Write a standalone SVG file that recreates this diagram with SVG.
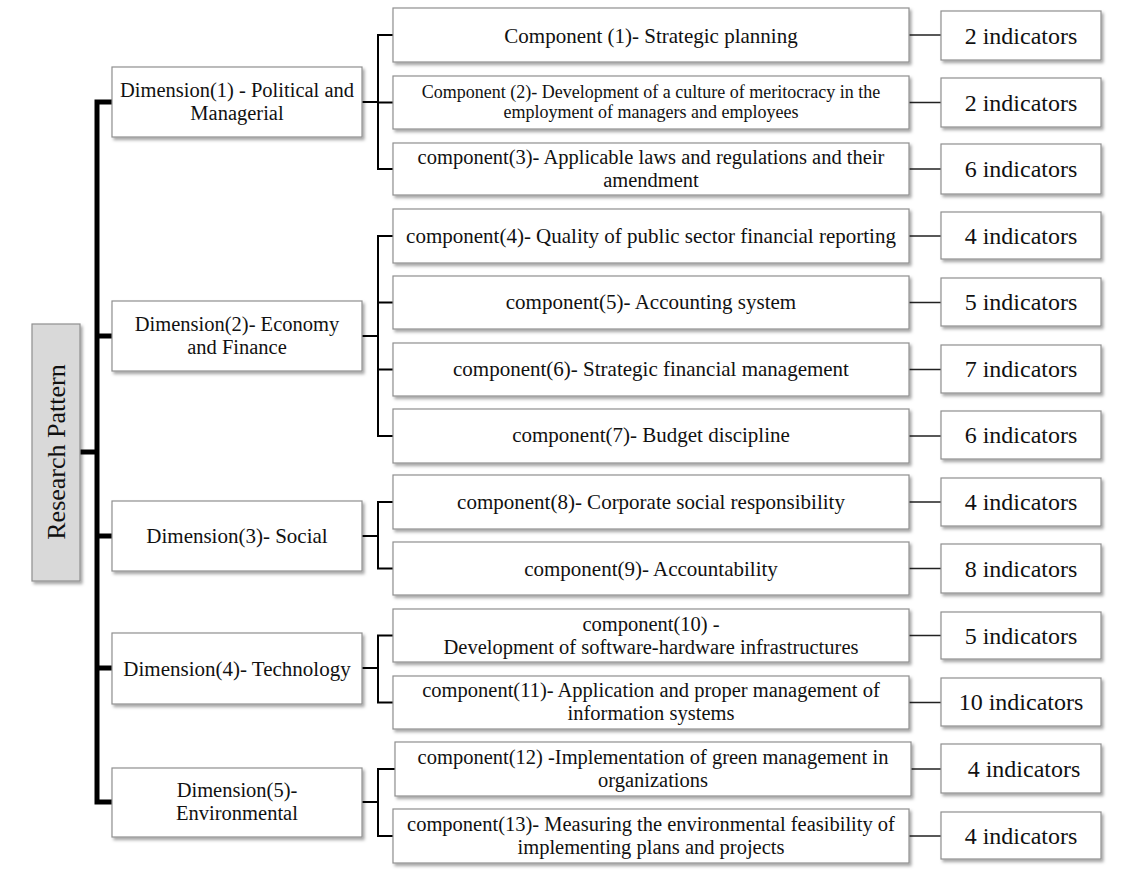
<svg xmlns="http://www.w3.org/2000/svg" width="1121" height="883" viewBox="0 0 1121 883">
<defs>
<filter id="sh" x="-10%" y="-20%" width="130%" height="150%">
<feDropShadow dx="2" dy="2.5" stdDeviation="1.5" flood-color="#000" flood-opacity="0.35"/>
</filter>
<style>
.box{fill:#fff;stroke:#8f8f8f;stroke-width:1.2;filter:url(#sh)}
.root{fill:#d9d9d9;stroke:#8f8f8f;stroke-width:1.2;filter:url(#sh)}
text{font-family:"Liberation Serif","Times New Roman",serif;fill:#111;text-anchor:middle}
.d{font-size:21px}
.d2{font-size:20.5px}
.c{font-size:21px}
.c1{font-size:20.5px}
.c2{font-size:18px}
.i{font-size:24px}
.r{font-size:26px}
.trunk{fill:none;stroke:#000;stroke-width:5}
.ln{fill:none;stroke:#000;stroke-width:2}
.li{fill:none;stroke:#222;stroke-width:1.5}
</style>
</defs>
<rect width="1121" height="883" fill="#fff"/>
<g id="connectors">
<path class="trunk" d="M80,452 H97 M112,102 H97 V802 H112 M97,336 H112 M97,536 H112 M97,668 H112"/>
<path class="ln" d="M362,102 H378 M393,35 H378 V169 H393 M378,102.5 H393"/>
<path class="ln" d="M362,336 H378 M393,236 H378 V436 H393 M378,302.5 H393 M378,369.5 H393"/>
<path class="ln" d="M362,536 H378 M393,502 H378 V568.5 H393"/>
<path class="ln" d="M362,668 H378 M393,635.5 H378 V702.5 H393"/>
<path class="ln" d="M362,802 H378 M395,769 H378 V836 H393"/>
<path class="li" d="M909,35 H941 M909,102.5 H941 M909,169 H941 M909,236 H941 M909,302.5 H941 M909,369.5 H941 M909,436 H941 M909,502 H941 M909,568.5 H941 M909,635.5 H941 M909,702.5 H941 M911,769 H941 M909,836 H941"/>
</g>
<g id="root">
<rect class="root" x="32" y="324" width="48" height="257"/>
<text class="r" transform="translate(65,452) rotate(-90)">Research Pattern</text>
</g>
<g id="dim1"><rect class="box" x="112" y="67" width="250" height="70"/><text class="d2" x="237" y="97">Dimension(1) - Political and</text><text class="d2" x="237" y="120">Managerial</text></g>
<g id="dim2"><rect class="box" x="112" y="301" width="250" height="70"/><text class="d2" x="237" y="331">Dimension(2)- Economy</text><text class="d2" x="237" y="354">and Finance</text></g>
<g id="dim3"><rect class="box" x="112" y="501" width="250" height="70"/><text class="d" x="237" y="543">Dimension(3)- Social</text></g>
<g id="dim4"><rect class="box" x="112" y="633" width="250" height="71"/><text class="d" x="237" y="676">Dimension(4)- Technology</text></g>
<g id="dim5"><rect class="box" x="112" y="768" width="250" height="69"/><text class="d2" x="237" y="797">Dimension(5)-</text><text class="d2" x="237" y="820">Environmental</text></g>

<g id="comp1"><rect class="box" x="393" y="8" width="516" height="54"/><text class="c" x="651" y="43">Component (1)- Strategic planning</text></g>
<g id="comp2"><rect class="box" x="393" y="76" width="516" height="53"/><text class="c2" x="651" y="98">Component (2)- Development of a culture of meritocracy in the</text><text class="c2" x="651" y="118">employment of managers and employees</text></g>
<g id="comp3"><rect class="box" x="393" y="143" width="516" height="52"/><text class="c1" x="651" y="164">component(3)- Applicable laws and regulations and their</text><text class="c1" x="651" y="187">amendment</text></g>
<g id="comp4"><rect class="box" x="393" y="209" width="516" height="54"/><text class="c" x="651" y="243">component(4)- Quality of public sector financial reporting</text></g>
<g id="comp5"><rect class="box" x="393" y="276" width="516" height="53"/><text class="c" x="651" y="309">component(5)- Accounting system</text></g>
<g id="comp6"><rect class="box" x="393" y="343" width="516" height="53"/><text class="c" x="651" y="376">component(6)- Strategic financial management</text></g>
<g id="comp7"><rect class="box" x="393" y="409" width="516" height="54"/><text class="c" x="651" y="442">component(7)- Budget discipline</text></g>
<g id="comp8"><rect class="box" x="393" y="475" width="516" height="54"/><text class="c" x="651" y="509">component(8)- Corporate social responsibility</text></g>
<g id="comp9"><rect class="box" x="393" y="542" width="516" height="53"/><text class="c" x="651" y="576">component(9)- Accountability</text></g>
<g id="comp10"><rect class="box" x="393" y="609" width="516" height="53"/><text class="c1" x="651" y="631">component(10) -</text><text class="c1" x="651" y="654">Development of software-hardware infrastructures</text></g>
<g id="comp11"><rect class="box" x="393" y="676" width="516" height="53"/><text class="c1" x="651" y="697">component(11)- Application and proper management of</text><text class="c1" x="651" y="720">information systems</text></g>
<g id="comp12"><rect class="box" x="395" y="742" width="516" height="54"/><text class="c1" x="653" y="764">component(12) -Implementation of green management in</text><text class="c1" x="653" y="787">organizations</text></g>
<g id="comp13"><rect class="box" x="393" y="809" width="516" height="54"/><text class="c1" x="651" y="831">component(13)- Measuring the environmental feasibility of</text><text class="c1" x="651" y="854">implementing plans and projects</text></g>

<g id="ind1"><rect class="box" x="941" y="11" width="160" height="49"/><text class="i" x="1021" y="43.5">2 indicators</text></g>
<g id="ind2"><rect class="box" x="941" y="78" width="160" height="49"/><text class="i" x="1021" y="110.5">2 indicators</text></g>
<g id="ind3"><rect class="box" x="941" y="144" width="160" height="50"/><text class="i" x="1021" y="177">6 indicators</text></g>
<g id="ind4"><rect class="box" x="941" y="212" width="160" height="47"/><text class="i" x="1021" y="243.5">4 indicators</text></g>
<g id="ind5"><rect class="box" x="941" y="278" width="160" height="48"/><text class="i" x="1021" y="310">5 indicators</text></g>
<g id="ind6"><rect class="box" x="941" y="345" width="160" height="48"/><text class="i" x="1021" y="377">7 indicators</text></g>
<g id="ind7"><rect class="box" x="941" y="411" width="160" height="48"/><text class="i" x="1021" y="443">6 indicators</text></g>
<g id="ind8"><rect class="box" x="941" y="478" width="160" height="48"/><text class="i" x="1021" y="510">4 indicators</text></g>
<g id="ind9"><rect class="box" x="941" y="544" width="160" height="49"/><text class="i" x="1021" y="576.5">8 indicators</text></g>
<g id="ind10"><rect class="box" x="941" y="612" width="160" height="47"/><text class="i" x="1021" y="643.5">5 indicators</text></g>
<g id="ind11"><rect class="box" x="941" y="678" width="160" height="48"/><text class="i" x="1021" y="710">10 indicators</text></g>
<g id="ind12"><rect class="box" x="941" y="744" width="160" height="49"/><text class="i" x="1024" y="776.5">4 indicators</text></g>
<g id="ind13"><rect class="box" x="941" y="812" width="160" height="47"/><text class="i" x="1021" y="843.5">4 indicators</text></g>
</svg>
